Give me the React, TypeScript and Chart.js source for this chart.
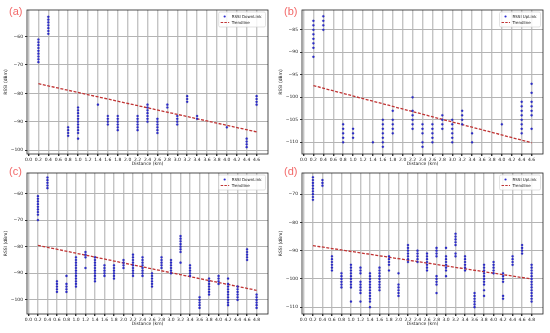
import React, { useEffect, useRef } from "react";
import { Chart, registerables } from "chart.js";
Chart.register(...registerables);

// ---------- Data ----------
const xTicksAB = [0.0, 0.2, 0.4, 0.6, 0.8, 1.0, 1.2, 1.4, 1.6, 1.8, 2.0, 2.2, 2.4, 2.6, 2.8, 3.0, 3.2, 3.4, 3.6, 3.8, 4.0, 4.2, 4.4, 4.6];
const xTicksCD = [0.0, 0.2, 0.4, 0.6, 0.8, 1.0, 1.2, 1.4, 1.6, 1.8, 2.0, 2.2, 2.4, 2.6, 2.8, 3.0, 3.2, 3.4, 3.6, 3.8, 4.0, 4.2, 4.4, 4.6, 4.8];
const yTicksA = [-100, -90, -80, -70, -60];
const yTicksB = [-110, -105, -100, -95, -90, -85];
const yTicksC = [-100, -90, -80, -70, -60];
const yTicksD = [-110, -100, -90, -80, -70];

// (a) RSSI DownLink
const distA = [0.2, 0.4, 0.8, 1.0, 1.4, 1.6, 1.8, 2.2, 2.4, 2.6, 2.8, 3.0, 3.2, 3.4, 4.0, 4.4, 4.6];
const rssiA = [
  [-61, -62, -63, -64, -65, -66, -67, -68, -69],
  [-53, -54, -55, -56, -57, -58, -59],
  [-92, -93, -94, -95],
  [-85, -86, -87, -88, -89, -90, -91, -92, -93, -94, -96],
  [-84],
  [-88, -89, -90, -91],
  [-88, -89, -90, -91, -92, -93],
  [-88, -89, -90, -91, -92, -93],
  [-84, -85, -86, -87, -88, -89, -90],
  [-89, -90, -91, -92, -93, -94],
  [-84, -85],
  [-88, -89, -90, -91],
  [-81, -82, -83],
  [-88, -89],
  [-92],
  [-96, -97, -98, -99],
  [-81, -82, -83, -84],
];
const trendXA = [0.2, 4.6];
const trendA = [-76.6, -93.6];

// (b) RSSI UpLink
const distB = [0.2, 0.4, 0.8, 1.0, 1.4, 1.6, 1.8, 2.2, 2.4, 2.6, 2.8, 3.0, 3.2, 3.4, 4.0, 4.4, 4.6];
const rssiB = [
  [-83, -84, -85, -86, -87, -88, -89, -91],
  [-82, -83, -84, -85],
  [-106, -107, -108, -109, -110],
  [-107, -108, -109],
  [-110],
  [-105, -106, -107, -108, -109, -110, -111],
  [-103, -105, -106, -107, -108],
  [-100, -103, -104, -105, -106, -107],
  [-106, -107, -108, -110, -111],
  [-106, -107, -108, -109, -110],
  [-104, -105, -106, -107],
  [-105, -106, -107, -108, -109, -110],
  [-103, -104, -105, -106],
  [-108, -110],
  [-106],
  [-101, -102, -103, -104, -105, -106, -107, -108],
  [-97, -99, -101, -102, -103, -104, -107],
];
const trendXB = [0.2, 4.6];
const trendB = [-97.4, -110.1];

// (c) RSSI DownLink
const distC = [0.2, 0.4, 0.6, 0.8, 1.0, 1.2, 1.4, 1.6, 1.8, 2.0, 2.2, 2.4, 2.6, 2.8, 3.0, 3.2, 3.4, 3.6, 3.8, 4.0, 4.2, 4.4, 4.6, 4.8];
const rssiC = [
  [-61, -62, -63, -64, -65, -66, -67, -68, -70],
  [-54, -55, -56, -57, -58],
  [-93, -94, -95, -96, -97],
  [-91, -94, -95, -96, -97],
  [-84, -85, -86, -87, -88, -89, -90, -91, -92, -93, -94, -95],
  [-82, -83, -84, -88],
  [-84, -85, -86, -87, -88, -89, -90, -91, -92, -93],
  [-87, -88, -89, -90, -91],
  [-87, -88, -89, -90, -91, -92],
  [-85, -86, -87, -88],
  [-83, -84, -85, -86, -87, -88, -89, -90, -91],
  [-84, -85, -86, -87, -88, -89, -90, -91],
  [-90, -91, -92, -93, -94, -95],
  [-84, -85, -86, -87, -88],
  [-85, -86, -87, -88, -89, -90],
  [-76, -77, -78, -79, -80, -81, -82, -86],
  [-87, -88, -89, -90, -91],
  [-99, -100, -101, -102, -103],
  [-92, -93, -94, -95, -96, -97, -98],
  [-91, -92, -93, -94],
  [-92, -94, -95, -96, -97, -98, -99, -100, -101, -102],
  [-95, -96, -97, -98, -99, -100],
  [-81, -82, -83, -84, -85],
  [-98, -99, -100, -101, -102, -103],
];
const trendXC = [0.2, 4.8];
const trendC = [-79.5, -96.4];

// (d) RSSI UpLink
const distD = [0.2, 0.4, 0.6, 0.8, 1.0, 1.2, 1.4, 1.6, 1.8, 2.0, 2.2, 2.4, 2.6, 2.8, 3.0, 3.2, 3.4, 3.6, 3.8, 4.0, 4.2, 4.4, 4.6, 4.8];
const rssiD = [
  [-64, -65, -66, -67, -68, -69, -70, -71, -72],
  [-65, -66, -67],
  [-92, -93, -94, -95, -96, -97],
  [-98, -99, -100, -101, -102, -103],
  [-95, -96, -97, -98, -99, -100, -101, -102, -103, -108],
  [-96, -97, -98, -101, -102, -103, -104, -105, -108],
  [-98, -99, -100, -101, -102, -103, -104, -105, -106, -107, -108, -110],
  [-96, -97, -98, -99, -100, -101, -102, -103, -104],
  [-92, -93, -94, -95, -97],
  [-98, -102, -103, -104, -105, -106],
  [-88, -89, -90, -91, -92, -93, -94],
  [-90, -91, -92, -93, -94],
  [-91, -92, -93, -94, -95, -96, -97],
  [-89, -90, -91, -92, -99, -100, -101, -102, -105],
  [-89, -92, -93, -94, -95, -96, -97, -99],
  [-84, -85, -86, -87, -88, -91, -92],
  [-92, -93, -94, -95, -96, -97],
  [-105, -106, -107, -108, -109, -110],
  [-95, -96, -97, -98, -99, -100, -101, -102, -104, -106],
  [-94, -95, -96, -97, -98],
  [-98, -99, -100, -101, -106, -107],
  [-92, -93, -94, -95],
  [-88, -89, -90, -91],
  [-95, -96, -97, -98, -99, -100, -101, -102, -103, -104, -105, -106, -107, -108],
];
const trendXD = [0.2, 4.8];
const trendD = [-88.2, -100.0];

// ---------- Panel ----------
type PanelProps = {
  tag: string;
  tagTop: number;
  seriesLabel: string;
  dist: number[];
  rssi: number[][];
  trendX: number[];
  trendY: number[];
  xTicks: number[];
  xMin: number;
  xMax: number;
  yTicks: number[];
  yMin: number;
  yMax: number;
  left: number;
  top: number;
  height: number;
  areaTop: number;
  areaBottom: number;
};

const FONT = '"DejaVu Sans", sans-serif';
const POINT_COLOR = "#2a2ad0";
const TREND_COLOR = "#c03434";

function Panel(p: PanelProps) {
  const ref = useRef<HTMLCanvasElement | null>(null);

  useEffect(() => {
    if (!ref.current) return;
    const pts: { x: number; y: number }[] = [];
    p.dist.forEach((d, i) => p.rssi[i].forEach((v) => pts.push({ x: d, y: v })));
    const trend = p.trendX.map((x, i) => ({ x, y: p.trendY[i] }));

    const framePlugin = {
      id: "frameLegend",
      afterDatasetsDraw(chart: any) {
        const { ctx, chartArea: a } = chart;
        ctx.save();
        ctx.strokeStyle = "#222";
        ctx.lineWidth = 0.8;
        ctx.strokeRect(a.left, a.top, a.right - a.left, a.bottom - a.top);

        ctx.font = `4px ${FONT}`;
        const tw = Math.max(ctx.measureText(p.seriesLabel).width, ctx.measureText("Trendline").width);
        const bw = tw + 17;
        const bh = 15;
        const bx = a.right - 2.5 - bw;
        const by = a.top + 2;
        ctx.fillStyle = "rgba(255,255,255,0.85)";
        ctx.strokeStyle = "#cfcfcf";
        ctx.lineWidth = 0.6;
        ctx.beginPath();
        ctx.roundRect(bx, by, bw, bh, 1.5);
        ctx.fill();
        ctx.stroke();
        ctx.fillStyle = POINT_COLOR;
        ctx.beginPath();
        ctx.arc(bx + 6, by + 4.5, 1.1, 0, Math.PI * 2);
        ctx.fill();
        ctx.fillStyle = "#222";
        ctx.textBaseline = "middle";
        ctx.textAlign = "left";
        ctx.fillText(p.seriesLabel, bx + 13, by + 4.5);
        ctx.strokeStyle = TREND_COLOR;
        ctx.lineWidth = 1.2;
        ctx.setLineDash([2.5, 1.2]);
        ctx.beginPath();
        ctx.moveTo(bx + 2, by + 10.5);
        ctx.lineTo(bx + 10.5, by + 10.5);
        ctx.stroke();
        ctx.setLineDash([]);
        ctx.fillText("Trendline", bx + 13, by + 10.5);
        ctx.restore();
      },
    };

    const fmtMinus = (v: number) => (v < 0 ? "\u2212" + Math.abs(v) : String(v));

    const chart = new Chart(ref.current, {
      type: "scatter",
      data: {
        datasets: [
          {
            label: p.seriesLabel,
            data: pts,
            backgroundColor: POINT_COLOR,
            borderColor: "#1c1c90",
            borderWidth: 0.2,
            pointRadius: 1.1,
            pointStyle: "circle",
          },
          {
            label: "Trendline",
            data: trend,
            showLine: true,
            borderColor: TREND_COLOR,
            borderWidth: 1.3,
            borderDash: [3, 1.5],
            pointRadius: 0,
            fill: false,
          } as any,
        ],
      },
      options: {
        animation: false,
        responsive: false,
        devicePixelRatio: 1,
        layout: {
          padding: { left: 0, right: 7, top: p.areaTop, bottom: p.height - p.areaBottom - 12 },
        },
        plugins: { legend: { display: false }, tooltip: { enabled: false } },
        scales: {
          x: {
            type: "linear",
            min: p.xMin,
            max: p.xMax,
            afterBuildTicks: (s: any) => {
              s.ticks = p.xTicks.map((v) => ({ value: v }));
            },
            afterFit: (s: any) => {
              s.height = 12;
            },
            ticks: {
              autoSkip: false,
              maxRotation: 0,
              padding: 1,
              color: "#222",
              font: { size: 4.5, family: FONT },
              callback: (v: any) => Number(v).toFixed(1),
            },
            grid: { color: "#c4c4c4", lineWidth: 1.4, tickLength: 2, tickColor: "#333" },
            border: { display: false },
            title: {
              display: true,
              text: "Distance (km)",
              color: "#222",
              font: { size: 4.5, family: FONT },
              padding: { top: 0, bottom: -0.5 },
            },
          },
          y: {
            type: "linear",
            min: p.yMin,
            max: p.yMax,
            afterBuildTicks: (s: any) => {
              s.ticks = p.yTicks.map((v) => ({ value: v }));
            },
            afterFit: (s: any) => {
              s.width = 27;
            },
            ticks: {
              autoSkip: false,
              padding: 2,
              color: "#222",
              font: { size: 4.5, family: FONT },
              callback: (v: any) => fmtMinus(Number(v)),
            },
            grid: { color: "#b4b4b4", lineWidth: 1, tickLength: 2, tickColor: "#333" },
            border: { display: false },
            title: {
              display: true,
              text: "RSSI (dBm)",
              color: "#222",
              font: { size: 4.5, family: FONT },
              padding: { top: 3.5, bottom: 0 },
            },
          },
        },
      },
      plugins: [framePlugin],
    });
    return () => chart.destroy();
  }, []);

  return (
    <div style={{ position: "absolute", left: p.left, top: p.top, width: 275, height: p.height }}>
      <canvas ref={ref} width={275} height={p.height} style={{ width: 275, height: p.height, display: "block" }} />
      <div
        style={{
          position: "absolute",
          left: 9,
          top: p.tagTop,
          fontFamily: '"Liberation Sans", Arial, sans-serif',
          fontSize: 11,
          lineHeight: "11px",
          color: "#f26a6a",
        }}
      >
        {p.tag}
      </div>
    </div>
  );
}

export default function App() {
  return (
    <div style={{ position: "absolute", left: 0, top: 0, width: 550, height: 333, background: "#fff", overflow: "hidden" }}>
      <Panel tag="(a)" tagTop={6} seriesLabel="RSSI DownLink" dist={distA} rssi={rssiA} trendX={trendXA} trendY={trendA}
        xTicks={xTicksAB} xMin={-0.03} xMax={4.83} yTicks={yTicksA} yMin={-101.4} yMax={-50.6}
        left={0} top={0} height={166} areaTop={10} areaBottom={154} />
      <Panel tag="(b)" tagTop={6} seriesLabel="RSSI UpLink" dist={distB} rssi={rssiB} trendX={trendXB} trendY={trendB}
        xTicks={xTicksAB} xMin={-0.03} xMax={4.83} yTicks={yTicksB} yMin={-112.6} yMax={-80.6}
        left={275} top={0} height={166} areaTop={10} areaBottom={154} />
      <Panel tag="(c)" tagTop={0} seriesLabel="RSSI DownLink" dist={distC} rssi={rssiC} trendX={trendXC} trendY={trendC}
        xTicks={xTicksCD} xMin={-0.03} xMax={5.04} yTicks={yTicksC} yMin={-105.3} yMax={-52.3}
        left={0} top={166} height={167} areaTop={7} areaBottom={148} />
      <Panel tag="(d)" tagTop={0} seriesLabel="RSSI UpLink" dist={distD} rssi={rssiD} trendX={trendXD} trendY={trendD}
        xTicks={xTicksCD} xMin={-0.03} xMax={5.04} yTicks={yTicksD} yMin={-112.4} yMax={-62.5}
        left={275} top={166} height={167} areaTop={7} areaBottom={148} />
    </div>
  );
}
